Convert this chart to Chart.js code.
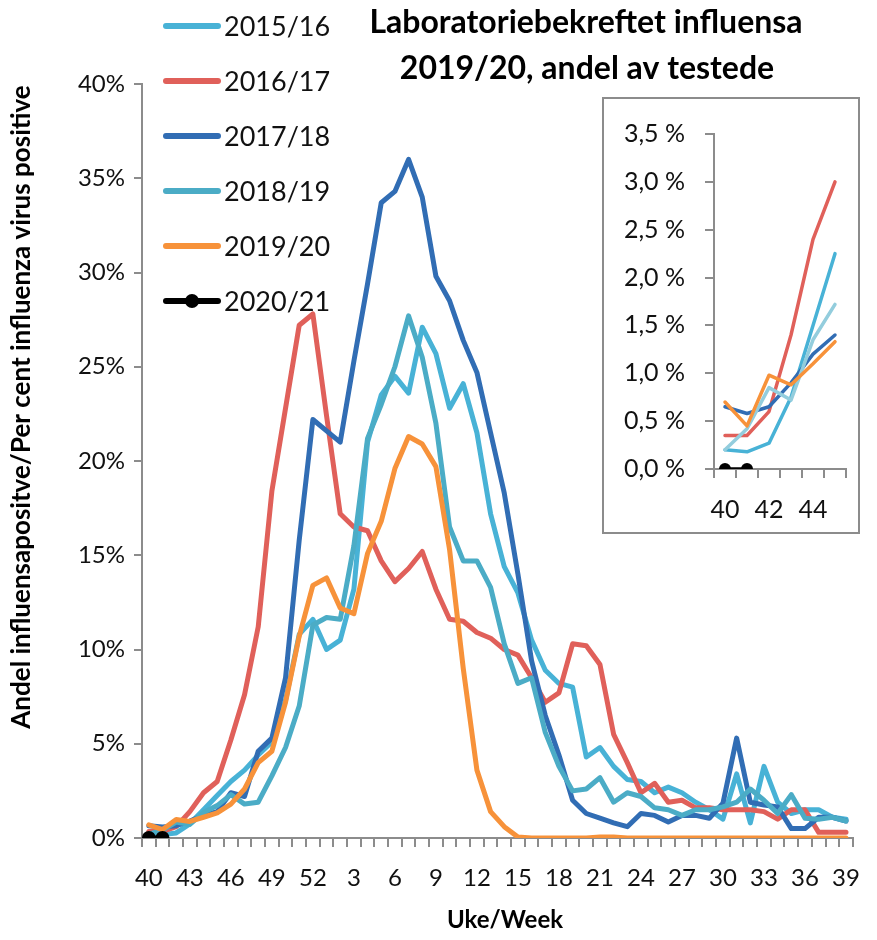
<!DOCTYPE html>
<html><head><meta charset="utf-8">
<script src="https://cdn.jsdelivr.net/npm/chart.js@4.4.1/dist/chart.umd.min.js"></script>
<style>
html,body{margin:0;padding:0;background:#fff;}
#wrap{position:relative;width:877px;height:940px;background:#fff;}
#main{position:absolute;left:0;top:0;}
#insetBox{position:absolute;left:602px;top:97px;width:254px;height:433px;border:2px solid #8c8c8c;background:#fff;}
#inset{position:absolute;left:0;top:0;}
</style></head><body>
<div id="wrap"><canvas id="main" width="877" height="940"></canvas>
<div id="insetBox"><canvas id="inset" width="254" height="433"></canvas></div></div>
<script>
// ---- data ----
const weeks = ['40','41','42','43','44','45','46','47','48','49','50','51','52',
  '1','2','3','4','5','6','7','8','9','10','11','12','13','14','15','16','17','18','19','20',
  '21','22','23','24','25','26','27','28','29','30','31','32','33','34','35','36','37','38','39'];
const seasonNames = ['2015/16','2016/17','2017/18','2018/19','2019/20','2020/21'];
const s2015_16 = [0.2,0.18,0.27,0.75,1.5,2.25,3.0,3.6,4.4,5.1,7.3,10.8,11.6,
  10.0,10.5,13.2,21.0,23.5,24.5,23.6,27.1,25.7,22.8,24.1,21.5,17.2,14.4,13.0,10.5,8.9,8.2,8.0,4.3,
  4.8,3.8,3.1,3.0,2.4,2.7,2.4,1.9,1.5,1.0,3.4,0.8,3.8,1.9,1.3,1.5,1.5,1.1,1.0];
const s2016_17 = [0.35,0.35,0.6,1.4,2.4,3.0,5.2,7.6,11.2,18.4,22.8,27.2,27.8,
  22.4,17.2,16.5,16.3,14.7,13.6,14.3,15.2,13.2,11.6,11.5,10.9,10.6,10.0,9.7,8.5,7.2,7.7,10.3,10.2,
  9.2,5.5,4.0,2.4,2.9,1.9,2.0,1.6,1.6,1.5,1.5,1.5,1.4,1.0,1.5,1.5,0.3,0.3,0.3];
const s2017_18 = [0.65,0.58,0.65,0.9,1.2,1.4,2.4,2.2,4.6,5.3,8.5,15.8,22.2,
  21.6,21.0,25.3,29.4,33.7,34.3,36.0,34.0,29.8,28.5,26.4,24.7,21.5,18.3,14.0,9.4,6.5,4.4,2.0,1.3,
  1.05,0.8,0.6,1.3,1.2,0.85,1.2,1.2,1.05,1.85,5.3,1.9,1.75,1.65,0.5,0.5,1.1,1.1,0.9];
const s2018_19 = [0.2,0.42,0.85,0.72,1.35,1.72,2.3,1.8,1.9,3.3,4.8,7.0,11.3,
  11.7,11.6,15.5,21.2,23.0,25.0,27.7,25.5,22.0,16.5,14.7,14.7,13.3,10.3,8.2,8.5,5.6,3.8,2.5,2.6,
  3.2,1.9,2.4,2.2,1.6,1.5,1.2,1.5,1.5,1.65,1.9,2.6,2.0,1.3,2.3,1.05,1.0,1.1,0.9];
const s2019_20 = [0.7,0.45,0.98,0.88,1.1,1.33,1.8,2.6,4.0,4.6,7.2,10.7,13.4,
  13.8,12.2,11.9,15.1,16.8,19.6,21.3,20.9,19.7,15.3,9.0,3.6,1.4,0.6,0.05,0,0,0,0,0,
  0.05,0.05,0,0,0,0,0,0,0,0,0,0,0,0,0,0,0,0,0];
const s2020_21 = [0,0];
const yTicksMain = [0,5,10,15,20,25,30,35,40];
const insetWeeks = weeks.slice(0,6);
const titleLines = ['Laboratoriebekreftet influensa','2019/20, andel av testede'];
const yTitle = 'Andel influensapositve/Per cent influenza virus positive';
const xTitle = 'Uke/Week';

// ---- styles ----
const FONT = 'Lato, "Liberation Sans", sans-serif';
Chart.defaults.font.family = FONT;
Chart.defaults.color = '#111';
const colors = ['#48B2D6','#E0605A','#316DB4','#4BACC6','#F7923A','#000000'];
const insetColors = ['#48B2D6','#E0605A','#316DB4','#93CDDD','#F7923A','#000000'];
const allSeries = [s2015_16,s2016_17,s2017_18,s2018_19,s2019_20,s2020_21];

function makeDatasets(cols, width, dotR, slice){
  return allSeries.map((s,i)=>({
    label: seasonNames[i],
    data: slice ? s.slice(0,slice) : s,
    borderColor: cols[i],
    backgroundColor: cols[i],
    borderWidth: width,
    pointRadius: i===5 ? dotR : 0,
    pointBackgroundColor: cols[i],
    pointBorderWidth: 0,
    fill:false,
    order: 5-i
  }));
}
const axisCol = '#8c8c8c';
const decor = {
  id:'decor',
  afterDraw(chart){
    const ctx = chart.ctx;
    ctx.save();
    ctx.fillStyle = '#000';
    ctx.textAlign = 'center';
    ctx.textBaseline = 'middle';
    ctx.font = 'bold 32px ' + FONT;
    ctx.fillText(titleLines[0], 586, 23);
    ctx.fillText(titleLines[1], 587, 69);
    ctx.font = 'bold 24px ' + FONT;
    ctx.fillText(xTitle, 505, 920);
    ctx.save();
    ctx.translate(22, 407);
    ctx.rotate(-Math.PI/2);
    ctx.font = 'bold 26px ' + FONT;
    ctx.fillText(yTitle, 0, 0);
    ctx.restore();
    // legend
    const ys = [26,81,136,191,246,301];
    ctx.textAlign = 'left';
    ctx.font = '27px ' + FONT;
    seasonNames.forEach((n,i)=>{
      ctx.strokeStyle = colors[i];
      ctx.lineWidth = 6;
      ctx.lineCap = 'round';
      ctx.beginPath(); ctx.moveTo(166,ys[i]); ctx.lineTo(218,ys[i]); ctx.stroke();
      if(i===5){ ctx.fillStyle='#000'; ctx.beginPath(); ctx.arc(192,ys[i],7,0,Math.PI*2); ctx.fill(); }
      ctx.fillStyle = '#111';
      ctx.fillText(n, 224, ys[i]+1);
    });
    ctx.restore();
  }
};
const bg = {id:'bg', beforeDraw(chart){const c=chart.ctx;c.save();c.fillStyle='#fff';c.fillRect(0,0,chart.width,chart.height);c.restore();}};

new Chart(document.getElementById('main'), {
  type:'line',
  data:{labels:weeks, datasets:makeDatasets(colors,5,7,0)},
  options:{
    responsive:false, animation:false, devicePixelRatio:1,
    layout:{padding:{top:84,right:7,left:0,bottom:0}},
    plugins:{legend:{display:false}, tooltip:{enabled:false}},
    elements:{line:{tension:0,borderJoinStyle:'round',borderCapStyle:'round'}},
    scales:{
      x:{offset:true,
        grid:{display:true,drawOnChartArea:false,drawTicks:true,tickLength:9,color:axisCol,lineWidth:2,offset:true},
        border:{display:true,color:axisCol,width:2},
        ticks:{autoSkip:false,maxRotation:0,minRotation:0,padding:17,color:'#111',font:{size:24},
          callback:(v,i)=> i%3===0 ? weeks[i] : ''},
        afterFit(s){s.height=102;}},
      y:{min:0,max:40,
        afterBuildTicks(s){s.ticks = yTicksMain.map(v=>({value:v}));},
        grid:{display:true,drawOnChartArea:false,drawTicks:true,tickLength:8,color:axisCol,lineWidth:2},
        border:{display:true,color:axisCol,width:2},
        ticks:{padding:9,color:'#111',font:{size:24},callback:v=>v+'%'},
        afterFit(s){s.width=142;}}
    }
  },
  plugins:[bg,decor]
});

new Chart(document.getElementById('inset'), {
  type:'line',
  data:{labels:insetWeeks, datasets:makeDatasets(insetColors,3.5,6,6)},
  options:{
    responsive:false, animation:false, devicePixelRatio:1,
    layout:{padding:{top:20,right:12,left:0,bottom:0}},
    plugins:{legend:{display:false}, tooltip:{enabled:false}},
    elements:{line:{tension:0,borderJoinStyle:'round',borderCapStyle:'round'}},
    scales:{
      x:{offset:true,
        grid:{display:true,drawOnChartArea:false,drawTicks:true,tickLength:9,color:axisCol,lineWidth:2,offset:true},
        border:{display:true,color:axisCol,width:2},
        ticks:{autoSkip:false,maxRotation:0,minRotation:0,padding:17,color:'#111',font:{size:25},
          callback:(v,i)=> i%2===0 ? insetWeeks[i] : ''},
        afterFit(s){s.height=63;}},
      y:{min:0,max:3.5,
        ticks:{stepSize:0.5,padding:20,color:'#111',font:{size:25},
          callback:v=>v.toFixed(1).replace('.',',')+' %'},
        grid:{display:true,drawOnChartArea:false,drawTicks:true,tickLength:9,color:axisCol,lineWidth:2},
        border:{display:true,color:axisCol,width:2},
        afterFit(s){s.width=110;}}
    }
  },
  plugins:[bg]
});
</script>
</body></html>
